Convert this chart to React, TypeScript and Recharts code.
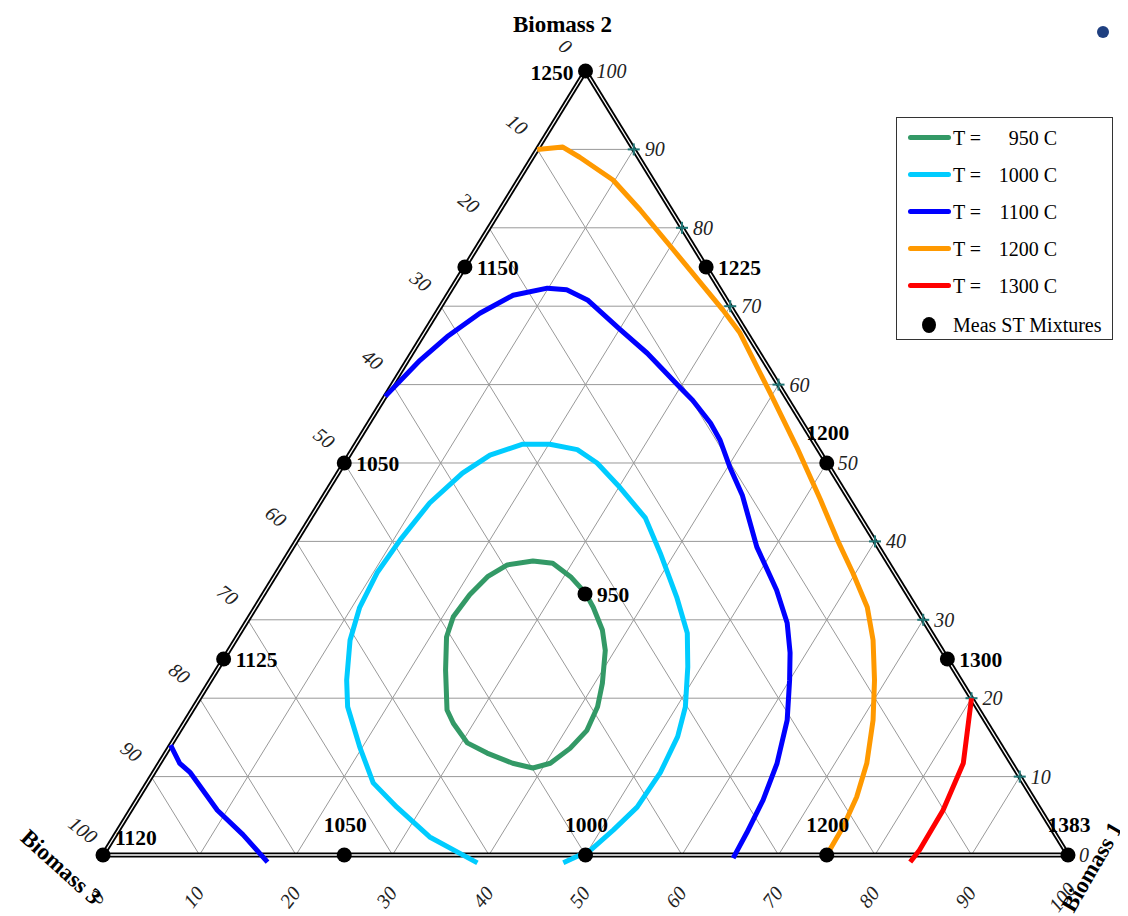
import { ScatterChart, Scatter, XAxis, YAxis, ReferenceLine } from 'recharts';

const W = 1120;
const H = 908;
// domains chosen so the triangle fills the frame like the original plot
const X_DOMAIN: [number, number] = [-9.845, 106.218];
const Y_DOMAIN: [number, number] = [-7.781, 108.036];
const FONT = '"Liberation Serif", "Times New Roman", serif';

// contour lines of the softening temperature, points as [Biomass 1 %, Biomass 2 %]
const st950: [number, number][] = [
  [33.3, 33.4], [30.7, 35.5], [28.0, 37.2], [25.8, 37.5], [23.4, 37.0], [22.1, 35.5],
  [21.4, 33.2], [21.1, 30.4], [21.7, 27.8], [23.7, 23.6], [26.4, 18.5], [27.9, 16.8],
  [30.6, 14.3], [33.3, 13.0], [36.6, 11.7], [39.0, 11.1], [40.5, 11.7], [41.6, 13.6],
  [42.2, 15.9], [41.8, 18.9], [40.8, 21.9], [39.0, 26.1], [37.4, 28.7], [35.0, 31.6],
  [33.3, 33.4],
];
const st1000: [number, number][] = [
  [39.3, -1.0], [32.7, 2.3], [27.4, 6.1], [23.4, 9.2], [19.7, 13.8], [15.9, 18.9],
  [14.1, 22.3], [11.9, 27.4], [10.8, 31.6], [10.4, 36.0], [10.7, 40.2], [11.4, 44.9],
  [12.9, 48.7], [14.6, 51.0], [17.3, 52.4], [20.1, 52.4], [23.3, 51.7], [26.2, 50.0],
  [30.1, 46.9], [34.7, 43.0], [38.5, 38.5], [43.0, 32.9], [46.4, 28.3], [48.6, 24.0],
  [50.9, 18.9], [52.0, 15.1], [52.5, 10.5], [52.3, 6.1], [51.3, 3.2], [50.2, 0.6],
  [48.2, -1.0],
];
const st1100a: [number, number][] = [
  [0, 58.5], [1.3, 63.1], [2.6, 66.1], [4.5, 69.1], [6.8, 71.4], [9.9, 72.3],
  [12.0, 72.1], [14.8, 70.8], [20.1, 67.0], [24.4, 64.0], [29.9, 59.7], [32.1, 58.0],
  [35.4, 55.1], [37.5, 52.9], [40.2, 49.5], [43.3, 45.9], [48.1, 39.3], [52.9, 33.8],
  [56.1, 29.6], [58.3, 25.8], [60.0, 22.3], [62.3, 17.2], [64.0, 11.7], [64.9, 7.0],
  [65.3, 2.8], [65.5, -0.4],
];
const st1100b: [number, number][] = [
  [0, 14.0], [2.1, 11.7], [3.8, 10.5], [9.0, 5.7], [13.2, 2.6], [17.5, -0.9],
];
const st1200: [number, number][] = [
  [0, 90.0], [2.5, 90.3], [4.9, 89.0], [9.8, 86.1], [14.5, 82.3], [20.5, 77.2],
  [29.5, 69.5], [32.7, 66.6], [39.7, 58.9], [45.9, 52.0], [51.7, 45.3], [56.0, 40.2],
  [59.7, 36.0], [63.4, 31.6], [66.1, 27.4], [68.8, 22.3], [71.2, 17.2], [73.3, 11.7],
  [74.4, 7.4], [74.9, 3.6], [75.0, 0],
];
const st1300: [number, number][] = [
  [80.0, 20.0], [83.3, 11.7], [84.2, 5.7], [84.3, 0.6], [84.1, -0.9],
];

const temps = [950, 1000, 1100, 1200, 1300];
const tempColors = ['#339966', '#00ccff', '#0000ff', '#ff9900', '#ff0000'];
const contourLines = [
  { t: 950, pts: st950 },
  { t: 1000, pts: st1000 },
  { t: 1100, pts: st1100a },
  { t: 1100, pts: st1100b },
  { t: 1200, pts: st1200 },
  { t: 1300, pts: st1300 },
];

// measured softening temperatures of the mixtures
const measB1 = [100, 0, 0, 25, 50, 75, 0, 0, 0, 25, 50, 75, 33.3];
const measB2 = [0, 100, 0, 0, 0, 0, 25, 50, 75, 75, 50, 25, 33.3];
const measST = [1383, 1250, 1120, 1050, 1000, 1200, 1125, 1050, 1150, 1225, 1200, 1300, 950];
const measLabelSide = ['above', 'left', 'aboveRight', 'above', 'above', 'above', 'right', 'right', 'right', 'right', 'above', 'right', 'right'];

const ticks = [0, 10, 20, 30, 40, 50, 60, 70, 80, 90, 100];
const gridSteps = [10, 20, 30, 40, 50, 60, 70, 80, 90];
const componentNames = ['Biomass 1', 'Biomass 2', 'Biomass 3'];

const tern = (b1: number, b2: number) => ({ x: b1 + b2 / 2, y: b2 });

const gridSegments = gridSteps.flatMap((k) => [
  [tern(0, k), tern(100 - k, k)],
  [tern(k, 0), tern(k, 100 - k)],
  [tern(100 - k, 0), tern(0, 100 - k)],
]);
const edges = [
  [tern(0, 0), tern(100, 0)],
  [tern(100, 0), tern(0, 100)],
  [tern(0, 100), tern(0, 0)],
];

const measData = measST.map((st, i) => ({ ...tern(measB1[i], measB2[i]), label: String(st), side: measLabelSide[i] }));
const rightTicks = ticks.map((k) => ({ ...tern(100 - k, k), label: String(k) }));
const leftTicks = ticks.map((k) => ({ ...tern(0, 100 - k), label: String(k) }));
const bottomTicks = ticks.map((k) => ({ ...tern(k, 0), label: String(k) }));
const crossData = gridSteps.map((k) => tern(100 - k, k));
const titleData = [
  { ...tern(100, 0), label: componentNames[0], dx: 24, dy: 12, rot: -60 },
  { ...tern(0, 100), label: componentNames[1], dx: -23, dy: -47, rot: 0 },
  { ...tern(0, 0), label: componentNames[2], dx: -42, dy: 12, rot: 42 },
];

const noPoint = () => <g />;

const MeasShape = (p: any) => {
  const { cx, cy, payload } = p;
  let tx = cx + 12, ty = cy + 8, anchor = 'start';
  if (payload.side === 'left') { tx = cx - 12; ty = cy + 9; anchor = 'end'; }
  if (payload.side === 'above') { tx = cx + 1; ty = cy - 23; anchor = 'middle'; }
  if (payload.side === 'aboveRight') { tx = cx + 12; ty = cy - 10; anchor = 'start'; }
  return (
    <g>
      <circle cx={cx} cy={cy} r={7.5} fill="#000" />
      <text x={tx} y={ty} textAnchor={anchor} fontFamily={FONT} fontWeight="bold" fontSize={21.5} fill="#000">
        {payload.label}
      </text>
    </g>
  );
};

const RightTickShape = (p: any) => (
  <text x={p.cx + 11} y={p.cy + 7} fontFamily={FONT} fontStyle="italic" fontSize={20} fill="#222">
    {p.payload.label}
  </text>
);

const rotatedText = (x: number, y: number, rot: number, label: string) => (
  <text
    x={x}
    y={y}
    transform={`rotate(${rot} ${x} ${y})`}
    textAnchor="middle"
    dominantBaseline="central"
    fontFamily={FONT}
    fontStyle="italic"
    fontSize={20}
    fill="#222"
  >
    {label}
  </text>
);

const LeftTickShape = (p: any) => rotatedText(p.cx - 20, p.cy - 25, 38, p.payload.label);
const BottomTickShape = (p: any) => rotatedText(p.cx - 6, p.cy + 42, -52, p.payload.label);

const CrossShape = (p: any) => (
  <g stroke="#1f7575" strokeWidth={2}>
    <line x1={p.cx - 6} y1={p.cy} x2={p.cx + 6} y2={p.cy} />
    <line x1={p.cx} y1={p.cy - 6} x2={p.cx} y2={p.cy + 6} />
  </g>
);

const TitleShape = (p: any) => {
  const x = p.cx + p.payload.dx;
  const y = p.cy + p.payload.dy;
  return (
    <text
      x={x}
      y={y}
      transform={`rotate(${p.payload.rot} ${x} ${y})`}
      textAnchor="middle"
      dominantBaseline="central"
      fontFamily={FONT}
      fontWeight="bold"
      fontSize={23}
      fill="#000"
    >
      {p.payload.label}
    </text>
  );
};

function Legend() {
  return (
    <div
      style={{
        position: 'absolute',
        left: 888,
        top: 109,
        width: 215,
        height: 221,
        border: '1px solid #333',
        background: '#fff',
        fontFamily: FONT,
        fontSize: 20,
        color: '#000',
      }}
    >
      {temps.map((t, i) => (
        <div key={t} style={{ position: 'absolute', left: 0, top: 8 + i * 37, height: 24, width: 215 }}>
          <div
            style={{
              position: 'absolute',
              left: 11,
              top: 9,
              width: 43,
              height: 5,
              borderRadius: 3,
              background: tempColors[i],
            }}
          />
          <span style={{ position: 'absolute', left: 56, top: 0, lineHeight: '24px' }}>T =</span>
          <span style={{ position: 'absolute', left: 90, width: 70, top: 0, lineHeight: '24px', textAlign: 'right' }}>
            {t} C
          </span>
        </div>
      ))}
      <div style={{ position: 'absolute', left: 25, top: 199, width: 14, height: 16, borderRadius: '50%', background: '#000' }} />
      <span style={{ position: 'absolute', left: 56, top: 195, lineHeight: '24px' }}>Meas ST Mixtures</span>
    </div>
  );
}

export default function App() {
  return (
    <div style={{ position: 'relative', width: W, height: H, background: '#fff' }}>
      <ScatterChart width={W} height={H} margin={{ top: 0, right: 0, bottom: 0, left: 0 }}>
        <XAxis type="number" dataKey="x" domain={X_DOMAIN} allowDataOverflow hide />
        <YAxis type="number" dataKey="y" domain={Y_DOMAIN} allowDataOverflow hide />
        {gridSegments.map((seg, i) => (
          <ReferenceLine key={`g${i}`} segment={seg} stroke="#999" strokeWidth={1} ifOverflow="visible" />
        ))}
        {edges.map((seg, i) => (
          <ReferenceLine key={`eo${i}`} segment={seg} stroke="#000" strokeWidth={5} ifOverflow="visible" />
        ))}
        {edges.map((seg, i) => (
          <ReferenceLine key={`ei${i}`} segment={seg} stroke="#fff" strokeWidth={1.3} ifOverflow="visible" />
        ))}
        <Scatter data={crossData} shape={CrossShape} isAnimationActive={false} />
        {contourLines.map((c, i) => (
          <Scatter
            key={`c${i}`}
            name={`T = ${c.t} C`}
            data={c.pts.map(([a, b]) => tern(a, b))}
            line={{ stroke: tempColors[temps.indexOf(c.t)], strokeWidth: 5, strokeLinejoin: 'round' }}
            shape={noPoint}
            isAnimationActive={false}
          />
        ))}
        <Scatter data={rightTicks} shape={RightTickShape} isAnimationActive={false} />
        <Scatter data={leftTicks} shape={LeftTickShape} isAnimationActive={false} />
        <Scatter data={bottomTicks} shape={BottomTickShape} isAnimationActive={false} />
        <Scatter data={titleData} shape={TitleShape} isAnimationActive={false} />
        <Scatter name="Meas ST Mixtures" data={measData} shape={MeasShape} isAnimationActive={false} />
      </ScatterChart>
      <Legend />
      <div
        style={{ position: 'absolute', left: 1089, top: 18, width: 12, height: 12, borderRadius: '50%', background: '#1f3f80' }}
      />
    </div>
  );
}
